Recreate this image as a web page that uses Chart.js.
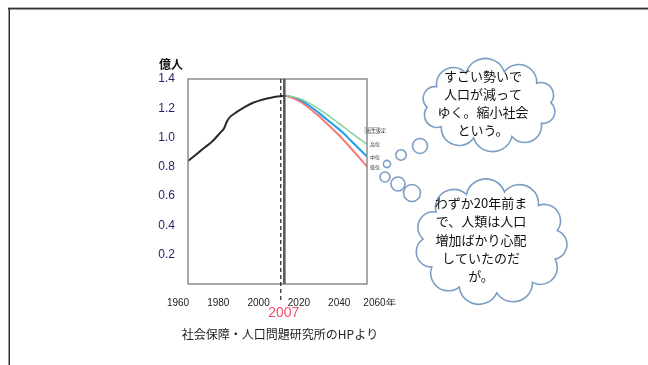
<!DOCTYPE html>
<html>
<head>
<meta charset="utf-8">
<script src="https://cdn.jsdelivr.net/npm/chart.js@4.4.1/dist/chart.umd.min.js"></script>
<style>
  html, body { margin: 0; padding: 0; background: #fff; }
  #wrap { width: 648px; height: 365px; position: relative; }
</style>
</head>
<body>
<div id="wrap"><canvas id="c" width="648" height="365"></canvas></div>
<script>
// Japan total population (hundred millions), actual figures
const actualYears = [1950, 1955, 1960, 1965, 1970, 1972, 1974, 1976, 1980, 1985, 1990, 1995, 2000, 2005, 2010];
const actualPop   = [0.840, 0.885, 0.930, 0.975, 1.035, 1.060, 1.112, 1.143, 1.175, 1.210, 1.238, 1.256, 1.270, 1.281, 1.286];

// Projections (high / medium / low)
const projYears = [2010, 2015, 2020, 2025, 2030, 2035, 2040, 2045, 2050, 2055, 2060];
const projHigh  = [1.286, 1.278, 1.260, 1.232, 1.198, 1.160, 1.120, 1.078, 1.036, 0.995, 0.954];
const projMid   = [1.286, 1.272, 1.248, 1.214, 1.172, 1.127, 1.082, 1.036, 0.980, 0.925, 0.870];
const projLow   = [1.286, 1.268, 1.238, 1.197, 1.150, 1.099, 1.046, 0.990, 0.929, 0.866, 0.801];
const projNames = ['高位', '中位', '低位'];

// Axis labels
const xTickYears = [1960, 1980, 2000, 2020, 2040, 2060];
const yTicks = [0.2, 0.4, 0.6, 0.8, 1.0, 1.2, 1.4];
const markYear = 2007;      // dashed marker
const baseYear = 2009.2;    // boundary between actual and projected (solid marker)

const bubbleTop = ['すごい勢いで', '人口が減って', 'ゆく。縮小社会', 'という。'];
const bubbleBottom = ['わずか20年前ま', 'で、人類は人口', '増加ばかり心配', 'していたのだ', 'が。'];

const pts = (xs, ys) => xs.map((x, i) => ({ x, y: ys[i] }));

// Cloud outline: arcs bulging outward between points on an ellipse.
// bulge = sagitta / half-chord (1 = semicircle)
function cloud(ctx, cx, cy, rx, ry, n, bulge, phase) {
  const P = [];
  for (let i = 0; i < n; i++) {
    const t = phase + i * 2 * Math.PI / n;
    P.push([cx + rx * Math.cos(t), cy + ry * Math.sin(t)]);
  }
  ctx.beginPath();
  for (let i = 0; i < n; i++) {
    const a = P[i], b = P[(i + 1) % n];
    const mx = (a[0] + b[0]) / 2, my = (a[1] + b[1]) / 2;
    const dx = b[0] - a[0], dy = b[1] - a[1];
    const c = Math.hypot(dx, dy) / 2;
    const h = c * bulge;
    const r = (c * c + h * h) / (2 * h);
    const off = h - r;                     // centre offset along outward normal
    const nx = dy / (2 * c), ny = -dx / (2 * c);
    const ox = mx + nx * off, oy = my + ny * off;
    const a0 = Math.atan2(a[1] - oy, a[0] - ox);
    const a1 = Math.atan2(b[1] - oy, b[0] - ox);
    ctx.arc(ox, oy, r, a0, a1, false);
  }
  ctx.closePath();
  ctx.fillStyle = '#fff';
  ctx.fill();
  ctx.stroke();
}

const overlay = {
  id: 'overlay',
  afterDatasetsDraw(chart) {
    const { ctx, chartArea: ca, scales } = chart;
    const x = scales.x;
    ctx.save();
    // plot frame
    ctx.strokeStyle = '#8c8c8c';
    ctx.lineWidth = 1.5;
    ctx.strokeRect(ca.left, ca.top, ca.right - ca.left, ca.bottom - ca.top);
    // projection base line
    const xb = x.getPixelForValue(baseYear);
    ctx.strokeStyle = '#555';
    ctx.lineWidth = 2.5;
    ctx.beginPath(); ctx.moveTo(xb, ca.top); ctx.lineTo(xb, ca.bottom); ctx.stroke();
    // 2007 marker
    const xm = x.getPixelForValue(markYear);
    ctx.strokeStyle = '#222';
    ctx.lineWidth = 1.2;
    ctx.setLineDash([4, 3]);
    ctx.beginPath(); ctx.moveTo(xm, ca.top); ctx.lineTo(xm, ca.bottom + 19); ctx.stroke();
    ctx.setLineDash([]);
    ctx.restore();
  },
  afterDraw(chart) {
    const { ctx, chartArea: ca, scales } = chart;
    const x = scales.x, y = scales.y;
    ctx.save();
    // outer frame
    ctx.fillStyle = '#b0b0b0';
    ctx.fillRect(8, 7, 640, 1);
    ctx.fillStyle = '#333';
    ctx.fillRect(8, 8, 640, 1.5);
    ctx.fillRect(8.5, 8, 1.5, 357);

    // unit
    ctx.fillStyle = '#111';
    ctx.font = 'bold 12px "Noto Sans CJK JP"';
    ctx.textAlign = 'left';
    ctx.textBaseline = 'middle';
    ctx.fillText('億人', 159, 64);

    // marker year
    ctx.fillStyle = '#f0506e';
    ctx.font = '14px "Liberation Sans", Arial, sans-serif';
    ctx.textAlign = 'center';
    ctx.fillText(String(markYear), x.getPixelForValue(markYear) + 3, 313);

    // source
    ctx.fillStyle = '#222';
    ctx.font = '12px "Noto Sans CJK JP"';
    ctx.fillText('社会保障・人口問題研究所のHPより', 280, 334);

    // small scenario tags
    ctx.font = '5px "Noto Sans CJK JP"';
    ctx.textAlign = 'left';
    ctx.fillStyle = '#333';
    const ends = [projHigh, projMid, projLow].map(s => s[s.length - 1]);
    ends.forEach((v, i) => {
      ctx.fillText(projNames[i], ca.right + 3, y.getPixelForValue(v));
    });
    ctx.strokeStyle = '#999';
    ctx.lineWidth = 0.6;
    ctx.strokeRect(ca.right - 2, 127.5, 14, 6);
    ctx.fillText('出生仮定', ca.right - 1, 130.5);

    // thought clouds
    ctx.strokeStyle = '#7d9ec4';
    ctx.lineWidth = 1.6;
    cloud(ctx, 489, 105, 62, 34, 10, 0.75, -Math.PI / 2 + 0.25);
    cloud(ctx, 491, 242, 68, 51, 11, 0.75, -Math.PI / 2 + 0.2);
    const bubbles = [[420, 146, 7.5], [401, 155, 5.2], [387, 164, 3.6],
                     [385, 177, 5], [398, 184, 7], [412, 193, 8.5]];
    bubbles.forEach(([bx, by, br]) => {
      ctx.beginPath(); ctx.arc(bx, by, br, 0, Math.PI * 2);
      ctx.fillStyle = '#fff'; ctx.fill(); ctx.stroke();
    });

    ctx.fillStyle = '#111';
    ctx.font = '13px "Noto Sans CJK JP"';
    ctx.textAlign = 'center';
    ctx.textBaseline = 'middle';
    bubbleTop.forEach((t, i) => ctx.fillText(t, 483, 76 + i * 18));
    bubbleBottom.forEach((t, i) => ctx.fillText(t, 481, 203 + i * 18.3));
    ctx.restore();
  }
};

new Chart(document.getElementById('c'), {
  type: 'line',
  data: {
    datasets: [
      { label: '実績', data: pts(actualYears, actualPop), borderColor: '#2a2a2a', borderWidth: 2, tension: 0.35 },
      { label: projNames[0], data: pts(projYears, projHigh), borderColor: '#7fd49a', borderWidth: 1.5, tension: 0.3 },
      { label: projNames[2], data: pts(projYears, projLow), borderColor: '#f47a7a', borderWidth: 2, tension: 0.3 },
      { label: projNames[1], data: pts(projYears, projMid), borderColor: '#1a9ff0', borderWidth: 2, tension: 0.3 }
    ]
  },
  options: {
    responsive: false,
    animation: false,
    devicePixelRatio: 1,
    layout: { padding: { left: 158, right: 281, top: 79, bottom: 59 } },
    elements: { point: { radius: 0 } },
    plugins: { legend: { display: false }, tooltip: { enabled: false } },
    scales: {
      x: { type: 'linear', min: 1950, max: 2060, display: false },
      xt: {
        type: 'linear', position: 'bottom', min: 1964.96, max: 2053.8,
        afterBuildTicks: s => { s.ticks = xTickYears.map(v => ({ value: v })); },
        afterFit: s => { s.height = 22; },
        grid: { display: false }, border: { display: false },
        ticks: {
          autoSkip: false, maxRotation: 0, padding: 5, color: '#222',
          font: { size: 10, family: '"Liberation Sans", Arial, sans-serif' },
          callback: v => v === 2060 ? v + '年' : String(v)
        }
      },
      y: {
        min: 0, max: 1.4,
        afterBuildTicks: s => { s.ticks = yTicks.map(v => ({ value: v })); },
        afterFit: s => { s.width = 30; },
        grid: { display: false }, border: { display: false },
        ticks: {
          padding: 5, color: '#2b1b6b',
          font: { size: 12, family: '"Liberation Sans", Arial, sans-serif' },
          callback: v => v.toFixed(1)
        }
      }
    }
  },
  plugins: [overlay]
});
</script>
</body>
</html>
